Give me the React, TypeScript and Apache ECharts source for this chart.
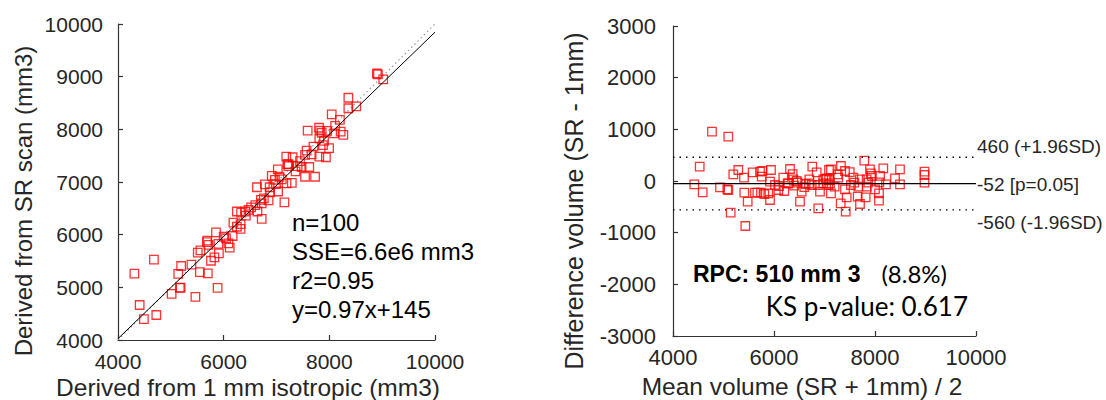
import React, { useEffect, useRef } from "react";
import * as echarts from "echarts";

// ---- Left panel: SR scan vs 1 mm isotropic ----
const leftXTicks = [4000, 6000, 8000, 10000];
const leftYTicks = [4000, 5000, 6000, 7000, 8000, 9000, 10000];
const leftPoints: number[][] = [
  [4310, 5260], [4680, 5525], [4410, 4665], [4490, 4395], [4725, 4475], [5015, 4875], [5140, 5255], [5195, 5405], [5170, 4990], [5185, 4995],
  [5390, 5430], [5465, 4820], [5510, 5660], [5550, 5290], [5700, 5265], [5885, 4990], [5685, 5860], [5710, 5805], [5760, 5505], [5825, 5570],
  [5910, 5645], [5855, 6045], [5690, 5885], [5900, 5825], [6000, 5960], [6045, 5930], [6090, 5835], [6115, 5755], [6170, 5975], [6185, 6230],
  [6250, 6150], [6320, 6110], [6250, 6440], [6405, 6440], [6420, 6360], [6470, 6470], [6330, 6420], [6640, 6440], [6720, 6300], [6705, 6660],
  [6720, 6595], [6630, 6900], [6780, 6955], [6880, 6805], [6990, 6960], [7030, 6820], [6910, 7115], [7055, 7100], [7025, 7240], [7190, 6975],
  [7150, 6615], [7185, 7480], [7205, 7340], [6970, 7040], [6760, 6690], [6600, 6560], [6520, 6520], [6870, 6900], [7590, 7975], [7805, 8030],
  [7825, 7975], [7855, 7935], [7960, 7970], [8110, 8065], [8090, 7925], [7810, 7830], [7900, 7780], [7995, 7645], [7700, 7670], [7570, 7595],
  [7810, 7480], [7935, 7470], [7665, 7525], [7540, 7515], [7305, 7470], [7225, 7340], [7225, 7300], [7445, 7395], [7620, 7285], [7475, 7285],
  [7540, 7100], [7730, 7100], [8045, 8285], [8200, 8180], [8265, 7895], [8215, 7955], [8360, 8600], [8360, 8400], [8510, 8435], [8900, 9060],
  [8920, 9045], [9020, 8950], [7290, 6985], [7100, 7050], [7360, 7200], [6850, 6650], [6320, 6200], [5560, 5700], [7880, 7700], [7400, 7300],
];
const identityLine = [[4000, 4000], [10000, 10000]];
const fitLine = [[4000, 4025], [10000, 9845]]; // y = 0.97x + 145
const leftStats = ["n=100", "SSE=6.6e6 mm3", "r2=0.95", "y=0.97x+145"];

// ---- Right panel: Bland-Altman ----
const rightXTicks = [4000, 6000, 8000, 10000];
const rightYTicks = [-3000, -2000, -1000, 0, 1000, 2000, 3000];
const rightPoints: number[][] = [
  [4772, 954], [5095, 857], [4529, 277], [4422, -64], [4588, -219], [4931, -122], [5075, -161], [5095, -174], [5194, 130], [5293, 213],
  [5406, 64], [5578, 168], [5412, -226], [5479, -400], [5624, -226], [5670, -226], [5142, -613], [5432, -871], [5723, 180],
  [5768, 194], [5756, 83], [5940, 213], [6317, 232], [6370, 135], [6184, 64], [5921, -14], [5887, -238], [5742, -226], [5808, -252],
  [5921, -368], [6085, -174], [6204, -194], [6271, -45], [6449, 0], [6469, -32], [6548, -206], [6515, -400], [6627, -58], [6693, -45],
  [6746, -77], [6758, 277], [6845, 168], [6877, -77], [6911, -206], [6976, 32], [7023, 39], [6976, -45], [6877, -529], [7075, -77],
  [7089, 213], [6283, -45], [6382, 32], [6020, -77],
  [7128, 226], [7326, 290], [7406, 194], [7261, 130], [7273, 64], [7788, 393], [7901, 226], [7920, 149], [7934, 97], [8164, 245],
  [8495, 226], [8396, 52], [8495, -64], [8217, -64], [8085, -25], [7835, 32], [7867, -32], [7570, 64], [7590, -32], [7524, -77],
  [7669, -110], [7406, -161], [7439, -316], [7657, -303], [7815, -316], [7835, -110], [8000, -161], [8079, -238], [8079, -381],
  [7703, -445], [7321, -432], [7420, -594], [7043, 52], [7089, 19], [7109, -45], [7128, -238],
  [8980, 180], [8980, 116], [8980, -32],
  [6100, -100], [6400, -90], [6600, -120], [7200, -110], [7700, 30], [6700, 30], [7500, 170], [8100, 100],
];
const meanDiff = -52;
const upperLoA = 460;
const lowerLoA = -560;
const loaLabels = ["460 (+1.96SD)", "-52 [p=0.05]", "-560 (-1.96SD)"];

const TICK = "#262626";
const AX = "#333333";
const FONT = '"Liberation Sans", Arial, sans-serif';

function axisCommon(min: number, max: number, interval: number, fontSize: number, margin: number) {
  return {
    type: "value" as const,
    min,
    max,
    interval,
    splitLine: { show: false },
    axisLine: { show: true, onZero: false, lineStyle: { color: AX, width: 1.2 } },
    axisTick: { show: true, inside: true, length: 5, lineStyle: { color: AX, width: 1.2 } },
    axisLabel: {
      color: TICK, fontSize, fontFamily: FONT, margin, showMinLabel: true, showMaxLabel: true,
      formatter: (v: number) => String(v),
    },
  };
}

const squareStyle = {
  symbol: "rect",
  symbolSize: 8.5,
  itemStyle: { color: "rgba(0,0,0,0)", borderColor: "#ff0000", borderWidth: 1.3 },
};

export default function App() {
  const ref = useRef<HTMLDivElement>(null);
  useEffect(() => {
    document.body.style.margin = "0";
    if (!ref.current) return;
    const chart = echarts.init(ref.current, undefined, { renderer: "svg" });
    const text = (
      t: string, x: number, y: number, size: number,
      opts: { align?: string; rotate?: boolean; weight?: string; family?: string; fill?: string } = {}
    ) => ({
      type: "text",
      x,
      y,
      rotation: opts.rotate ? Math.PI / 2 : 0,
      style: {
        text: t,
        fill: opts.fill || "#000",
        font: `${opts.weight || "normal"} ${size}px ${opts.family || FONT}`,
        align: opts.align || "center",
        verticalAlign: "middle",
      },
    });
    chart.setOption({
      animation: false,
      grid: [
        { left: 118, top: 24, width: 317, height: 316 },
        { left: 673, top: 26, width: 303, height: 310 },
      ],
      xAxis: [
        { ...axisCommon(leftXTicks[0], leftXTicks[leftXTicks.length - 1], 2000, 21, 11), gridIndex: 0 },
        { ...axisCommon(rightXTicks[0], rightXTicks[rightXTicks.length - 1], 2000, 22, 10), gridIndex: 1 },
      ],
      yAxis: [
        { ...axisCommon(leftYTicks[0], leftYTicks[leftYTicks.length - 1], 1000, 21, 15), gridIndex: 0 },
        { ...axisCommon(rightYTicks[0], rightYTicks[rightYTicks.length - 1], 1000, 22, 17), gridIndex: 1 },
      ],
      series: [
        {
          type: "line", xAxisIndex: 0, yAxisIndex: 0, data: identityLine, symbol: "none", z: 1,
          lineStyle: { color: "#9a9a9a", width: 1.2, type: [1.5, 3] },
        },
        {
          type: "line", xAxisIndex: 0, yAxisIndex: 0, data: fitLine, symbol: "none", z: 3,
          lineStyle: { color: "#000", width: 1 },
        },
        { type: "scatter", xAxisIndex: 0, yAxisIndex: 0, data: leftPoints, z: 2, ...squareStyle },
        {
          type: "line", xAxisIndex: 1, yAxisIndex: 1, data: [[4000, meanDiff], [10000, meanDiff]], symbol: "none", z: 3,
          lineStyle: { color: "#000", width: 1.2 },
        },
        {
          type: "line", xAxisIndex: 1, yAxisIndex: 1, data: [[4000, upperLoA], [10000, upperLoA]], symbol: "none", z: 3,
          lineStyle: { color: "#000", width: 1.3, type: [1.5, 5] },
        },
        {
          type: "line", xAxisIndex: 1, yAxisIndex: 1, data: [[4000, lowerLoA], [10000, lowerLoA]], symbol: "none", z: 3,
          lineStyle: { color: "#000", width: 1.3, type: [1.5, 5] },
        },
        { type: "scatter", xAxisIndex: 1, yAxisIndex: 1, data: rightPoints, z: 2, ...squareStyle },
      ],
      graphic: [
        text("Derived from SR scan (mm3)", 23, 201, 24, { rotate: true, fill: TICK }),
        text("Derived from 1 mm isotropic (mm3)", 248, 387, 24.5, { fill: TICK }),
        text("Difference volume (SR - 1mm)", 574, 201, 25, { rotate: true, fill: TICK }),
        text("Mean volume (SR + 1mm) / 2", 802, 386, 24.5, { fill: TICK }),
        text(leftStats[0], 292, 222, 24, { align: "left" }),
        text(leftStats[1], 292, 251, 24, { align: "left" }),
        text(leftStats[2], 292, 280, 24, { align: "left" }),
        text(leftStats[3], 292, 309, 24, { align: "left" }),
        text(loaLabels[0], 977, 146, 19, { align: "left", fill: TICK }),
        text(loaLabels[1], 977, 184, 19, { align: "left", fill: TICK }),
        text(loaLabels[2], 977, 222, 19, { align: "left", fill: TICK }),
        text("RPC: 510 mm 3", 693, 274, 23, { align: "left", weight: "bold" }),
        text("(8.8%)", 947, 273, 24, { align: "right", family: "Lato, sans-serif" }),
        text("KS p-value: 0.617", 968, 306, 26, { align: "right", family: "Lato, sans-serif" }),
      ],
    });
    return () => chart.dispose();
  }, []);
  return <div ref={ref} style={{ width: 1106, height: 400 }} />;
}
